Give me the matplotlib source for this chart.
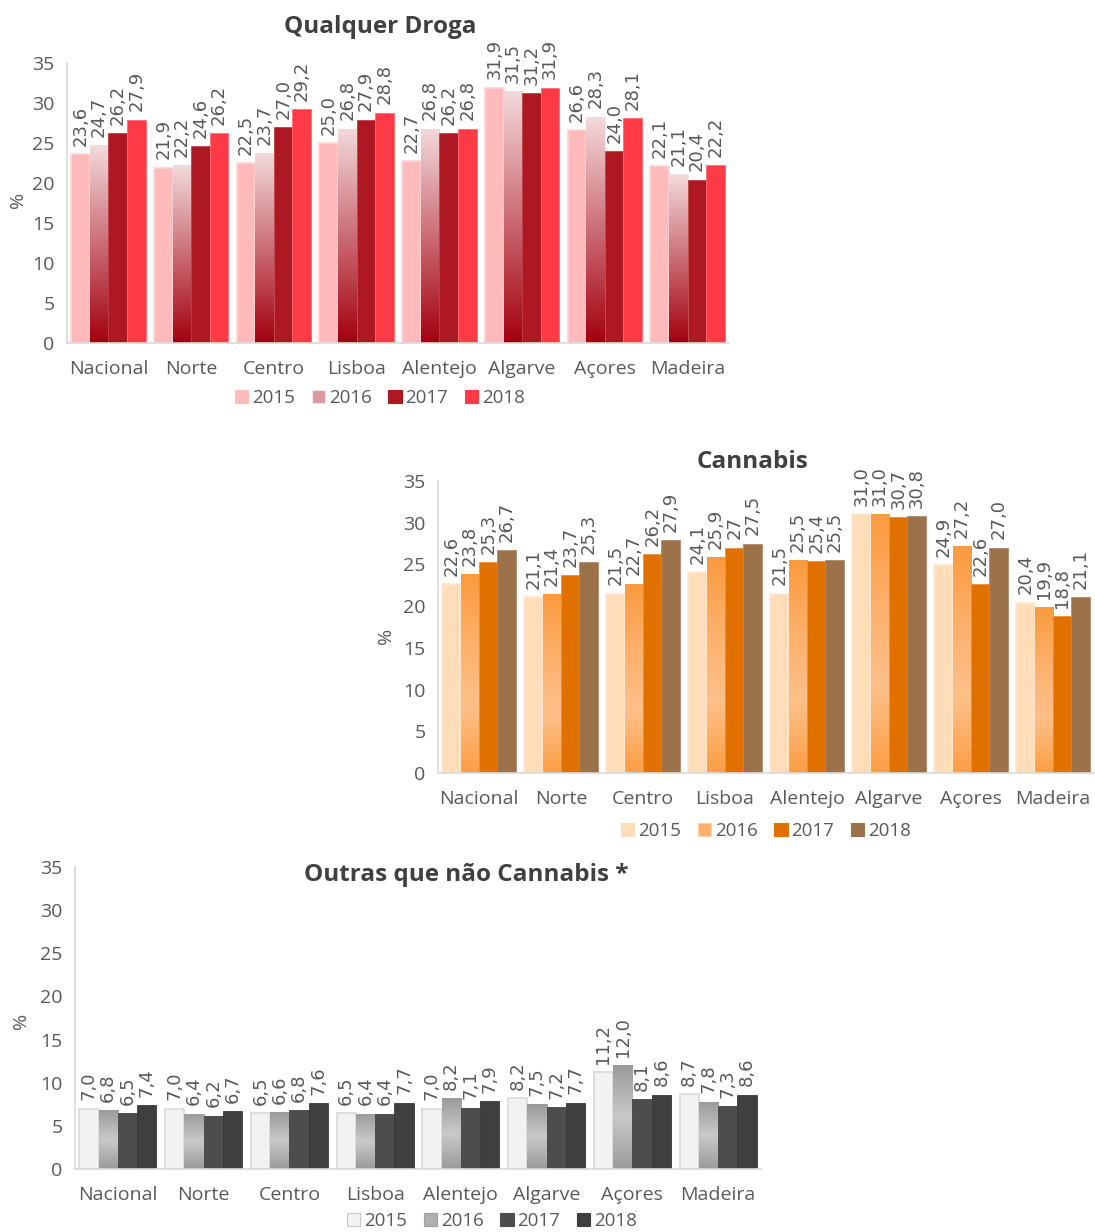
import numpy as np
import matplotlib
matplotlib.use("Agg")
from matplotlib import pyplot as plt
from matplotlib.colors import LinearSegmentedColormap
from matplotlib.patches import Rectangle

regioes = ["Nacional", "Norte", "Centro", "Lisboa", "Alentejo", "Algarve", "Açores", "Madeira"]
anos = ["2015", "2016", "2017", "2018"]

# Qualquer Droga
droga_2015 = [23.6, 21.9, 22.5, 25.0, 22.7, 31.9, 26.6, 22.1]
droga_2016 = [24.7, 22.2, 23.7, 26.8, 26.8, 31.5, 28.3, 21.1]
droga_2017 = [26.2, 24.6, 27.0, 27.9, 26.2, 31.2, 24.0, 20.4]
droga_2018 = [27.9, 26.2, 29.2, 28.8, 26.8, 31.9, 28.1, 22.2]

# Cannabis
cann_2015 = [22.6, 21.1, 21.5, 24.1, 21.5, 31.0, 24.9, 20.4]
cann_2016 = [23.8, 21.4, 22.7, 25.9, 25.5, 31.0, 27.2, 19.9]
cann_2017 = [25.3, 23.7, 26.2, 27.0, 25.4, 30.7, 22.6, 18.8]
cann_2018 = [26.7, 25.3, 27.9, 27.5, 25.5, 30.8, 27.0, 21.1]

# Outras que não Cannabis
outras_2015 = [7.0, 7.0, 6.5, 6.5, 7.0, 8.2, 11.2, 8.7]
outras_2016 = [6.8, 6.4, 6.6, 6.4, 8.2, 7.5, 12.0, 7.8]
outras_2017 = [6.5, 6.2, 6.8, 6.4, 7.1, 7.2, 8.1, 7.3]
outras_2018 = [7.4, 6.7, 7.6, 7.7, 7.9, 7.7, 8.6, 8.6]

# rótulo que aparece sem casa decimal no original
label_fix = {("Cannabis", 2, 3): "27"}

plt.rcParams['font.family'] = ['Open Sans', 'DejaVu Sans']
cinza = '#595959'

W, H = 1095, 1232
fig = plt.figure(figsize=(W / 100, H / 100), dpi=100)


def px_axes(left, right, top, bottom):
    return fig.add_axes([left / W, 1 - bottom / H, (right - left) / W, (bottom - top) / H])


def gradiente(ax, bar, cores):
    cmap = LinearSegmentedColormap.from_list("g", cores)
    x0, y0 = bar.get_x(), bar.get_y()
    w, h = bar.get_width(), bar.get_height()
    img = np.linspace(0, 1, 256).reshape(-1, 1)
    im = ax.imshow(img, cmap=cmap, origin='lower', aspect='auto',
                   extent=[x0, x0 + w, y0, y0 + h], zorder=2, interpolation='bicubic')
    im.set_clip_path(bar)


def painel(ax, nome, series, cores, grads, edges):
    x = np.arange(len(regioes))
    bw = 0.225
    for i, vals in enumerate(series):
        pos = x + (i - 1.5) * bw
        bars = ax.bar(pos, vals, bw, color=cores[i], edgecolor=edges[i],
                      linewidth=1.2 if i == 0 else 0.6, zorder=2)
        if grads[i] is not None:
            for b in bars:
                b.set_facecolor('none')
                gradiente(ax, b, grads[i])
        for j, v in enumerate(vals):
            txt = label_fix.get((nome, i, j), f"{v:.1f}".replace('.', ','))
            ax.annotate(txt, (pos[j], v), xytext=(0, 6), textcoords='offset points',
                        rotation=90, ha='center', va='bottom', fontsize=13,
                        family='DejaVu Sans', color=cinza, annotation_clip=False)
    ax.set_xlim(-0.5, 7.5)
    ax.set_ylim(0, 35)
    ax.set_yticks(range(0, 36, 5))
    ax.set_xticks(x)
    ax.set_xticklabels(regioes)
    ax.tick_params(length=0, labelsize=14, colors=cinza, pad=9)
    ax.tick_params(axis='x', pad=12)
    for s in ['top', 'right']:
        ax.spines[s].set_visible(False)
    for s in ['left', 'bottom']:
        ax.spines[s].set_color('#D9D9D9')
        ax.spines[s].set_linewidth(1.2)
    ax.set_ylabel('%', fontsize=14, color=cinza, labelpad=2)


def legenda(cores_leg, edges, cx, cy):
    hs = [Rectangle((0, 0), 1, 1, facecolor=c, edgecolor=e, linewidth=0.8)
          for c, e in zip(cores_leg, edges)]
    fig.legend(hs, anos, loc='center', bbox_to_anchor=(cx / W, 1 - cy / H), ncol=4,
               frameon=False, fontsize=13.5, handlelength=0.7, handleheight=0.7,
               handletextpad=0.2, columnspacing=0.9, labelcolor=cinza)


# Painel 1 - Qualquer Droga
ax1 = px_axes(67, 729, 63, 343)
painel(ax1, "Droga", [droga_2015, droga_2016, droga_2017, droga_2018],
       ['#FFBBBC', '#D98A90', '#AD1822', '#FE3A46'],
       [None, ['#A3000E', '#F3DADC'], None, None],
       ['#FFD5D6', '#F7E4E5', '#C04048', '#FF6A72'])
ax1.yaxis.set_label_coords(-0.06, 0.51)
fig.text(380 / W, 1 - 27 / H, 'Qualquer Droga', ha='center', va='center',
         fontsize=17.5, fontweight='bold', color='#404040')
legenda(['#FFBBBC', '#DB9AA0', '#AD1822', '#FE3A46'],
        ['#FFBBBC', '#F7E4E5', '#AD1822', '#FE3A46'], 380, 398)

# Painel 2 - Cannabis
ax2 = px_axes(438, 1094, 481, 773)
painel(ax2, "Cannabis", [cann_2015, cann_2016, cann_2017, cann_2018],
       ['#FFDDB9', '#FDAE62', '#E07000', '#9C724A'],
       [None, ['#FC9E44', '#FDC089', '#FDB06A', '#FA9A3D'], None, None],
       ['#FFE9D2', '#FFD2A8', '#E89040', '#B08A66'])
ax2.yaxis.set_label_coords(-0.065, 0.47)
fig.text(752 / W, 1 - 462 / H, 'Cannabis', ha='center', va='center',
         fontsize=17.5, fontweight='bold', color='#404040')
legenda(['#FFDDB9', '#FDB06A', '#E07000', '#9C724A'],
        ['#FFDDB9', '#FFD2A8', '#E07000', '#9C724A'], 766, 831)

# Painel 3 - Outras que não Cannabis
ax3 = px_axes(75, 761, 867, 1169)
painel(ax3, "Outras", [outras_2015, outras_2016, outras_2017, outras_2018],
       ['#F2F2F2', '#B0B0B0', '#4D4D4D', '#3F3F3F'],
       [None, ['#9A9A9A', '#C9C9C9', '#9A9A9A'], None, None],
       ['#D9D9D9', '#A0A0A0', '#444444', '#383838'])
ax3.yaxis.set_label_coords(-0.065, 0.49)
fig.text(466 / W, 1 - 875 / H, 'Outras que não Cannabis *', ha='center', va='center',
         fontsize=17.5, fontweight='bold', color='#404040')
legenda(['#F2F2F2', '#B0B0B0', '#4D4D4D', '#3F3F3F'],
        ['#C8C8C8', '#A0A0A0', '#4D4D4D', '#3F3F3F'], 492, 1221)

fig.savefig('out.png', dpi=100)
